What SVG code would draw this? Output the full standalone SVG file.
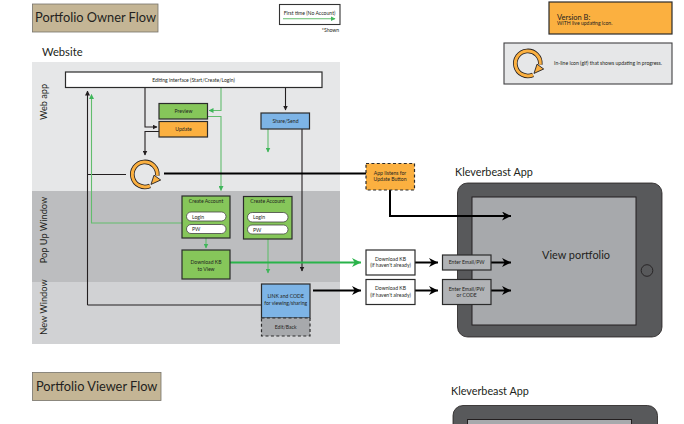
<svg xmlns="http://www.w3.org/2000/svg" xmlns:xlink="http://www.w3.org/1999/xlink" width="684" height="424" viewBox="0 0 684 424">
<style>
text{font-family:"Lato","Open Sans","Liberation Sans",sans-serif;fill:#231f20;text-anchor:middle}
.title{font-size:12.8px}
.h{font-size:11.2px;text-anchor:start}
.band{font-size:9.2px}
.s{font-size:5.1px}
.box{stroke:#2b2b2b;stroke-width:1.2}
.tan{fill:#c4b595;stroke:#77736a;stroke-width:.8}
.white{fill:#fff}
.green{fill:#86c65a}
.orange{fill:#fbb040}
.blue{fill:#7db4e6}
.gray{fill:#a7a9ac}
.lgray{fill:#b1b3b6}
.dash{stroke-dasharray:3 2.4}
.pill{fill:#fff;stroke:#444;stroke-width:.8}
.k{fill:none;stroke:#231f20;stroke-width:1.1}
.kt{fill:none;stroke:#000;stroke-width:2}
.g{fill:none;stroke:#62bd6d;stroke-width:1.1}
.gt{fill:none;stroke:#29b34a;stroke-width:2}
</style>
<defs>
<marker id="mk" viewBox="0 0 10 10" refX="9" refY="5" markerUnits="userSpaceOnUse" markerWidth="5" markerHeight="5" orient="auto"><path d="M0 0L10 5L0 10Z" fill="#231f20"/></marker>
<marker id="mg" viewBox="0 0 10 10" refX="9" refY="5" markerUnits="userSpaceOnUse" markerWidth="5" markerHeight="5" orient="auto"><path d="M0 0L10 5L0 10Z" fill="#3fb65a"/></marker>
<marker id="bk" viewBox="0 0 10 10" refX="10" refY="5" markerUnits="userSpaceOnUse" markerWidth="11" markerHeight="9" orient="auto"><path d="M0 0L10 5L0 10L3 5Z" fill="#000"/></marker>
<marker id="bg" viewBox="0 0 10 10" refX="10" refY="5" markerUnits="userSpaceOnUse" markerWidth="11" markerHeight="9" orient="auto"><path d="M0 0L10 5L0 10L3 5Z" fill="#29b34a"/></marker>
<g id="spin">
<path d="M5 11.8A12.500 12.500 0 1 1 12.300 1.500" fill="none" stroke="#231f20" stroke-width="4.600"/>
<path d="M5 11.8A12.500 12.500 0 1 1 12.300 1.500" fill="none" stroke="#fbb040" stroke-width="3"/>
<path d="M9 1.200L15.700 6L6 10.400Z" fill="#fbb040" stroke="#231f20" stroke-width=".9"/>
</g>
<g id="tablet">
<rect x="0" y="0" width="204.500" height="154" rx="10" fill="#58595b" stroke="#231f20" stroke-width=".8"/>
<rect x="14.500" y="14" width="164" height="128" fill="#a7a9ac" stroke="#231f20" stroke-width="1"/>
<circle cx="189.500" cy="87.500" r="5.800" fill="none" stroke="#231f20" stroke-width=".9"/>
</g>
</defs>

<rect width="684" height="424" fill="#fff"/>

<g id="lanes">
<rect x="32" y="62" width="308" height="129" fill="#e6e7e8"/>
<rect x="32" y="191" width="308" height="91" fill="#bcbdbf"/>
<rect x="32" y="282" width="308" height="62" fill="#d1d2d4"/>
<text class="band" transform="translate(47,102) rotate(-90)">Web app</text>
<text class="band" transform="translate(47,230) rotate(-90)">Pop Up Window</text>
<text class="band" transform="translate(47,307) rotate(-90)">New Window</text>
</g>

<g id="owner-title"><rect class="tan" x="32.500" y="4" width="125.500" height="28"/><text class="title" x="95.500" y="22">Portfolio Owner Flow</text></g>
<g id="viewer-title"><rect class="tan" x="32.500" y="372.500" width="128.500" height="28"/><text class="title" x="96.700" y="390.500">Portfolio Viewer Flow</text></g>
<g id="website-label"><text class="h" x="42" y="55.500">Website</text></g>

<g id="legend"><rect x="279.500" y="4.500" width="60.500" height="20" fill="#fff" stroke="#333" stroke-width="1.100"/><text class="s" x="309.500" y="15">First time (No Account)</text><path class="g" d="M283 18.700H335" marker-end="url(#mg)"/><text class="s" x="330.500" y="32">*Shown</text></g>

<g id="version-b"><rect class="orange box" x="549" y="2" width="123" height="32"/><text x="557" y="19.500" style="text-anchor:start;font-size:7.500px">Version B:</text><text class="s" x="557" y="25" style="text-anchor:start">WITH live updating icon.</text></g>
<g id="icon-note"><rect x="504" y="43" width="168" height="41" fill="#e6e7e8" stroke="#414042" stroke-width="1.100"/><use xlink:href="#spin" href="#spin" x="528" y="63"/><text class="s" x="608" y="64.500">In-line icon (gif) that shows updating in progress.</text></g>

<g id="tablet-1"><use xlink:href="#tablet" href="#tablet" x="457.500" y="183"/><text x="576" y="259" style="font-size:10.900px">View portfolio</text></g>
<g id="tablet-2"><use xlink:href="#tablet" href="#tablet" x="453" y="405.500"/></g>
<g id="app-label-1"><text class="h" x="455" y="175.500" style="font-size:10.800px">Kleverbeast App</text></g>
<g id="app-label-2"><text class="h" x="451" y="394.500" style="font-size:10.800px">Kleverbeast App</text></g>

<g id="connectors">
<path class="k" d="M87.500 305H261.500M87.500 305V91" marker-end="url(#mk)"/>
<path class="k" d="M87.500 174.500H126"/>
<path class="g" d="M182 223H91.500V94.500" marker-end="url(#mg)"/>
<path class="k" d="M145 87.500V127H157" marker-end="url(#mk)"/>
<path class="k" d="M159 131.500H145V155" marker-end="url(#mk)"/>
<path class="g" d="M221 87.500V110.500H209" marker-end="url(#mg)"/>
<path class="g" d="M207.500 116.500H221V190.500" marker-end="url(#mg)"/>
<path class="k" d="M285.500 87.500V110" marker-end="url(#mk)"/>
<path class="g" d="M268 129V152" marker-end="url(#mg)"/>
<path class="k" d="M302 129V271" marker-end="url(#mk)"/>
<path class="g" d="M206 238V248" marker-end="url(#mg)"/>
<path class="g" d="M268 239V273" marker-end="url(#mg)"/>
<path class="kt" d="M164 173.500H366"/>
<path class="kt" d="M390 190V216H511" marker-end="url(#bk)"/>
<path class="gt" d="M230 262.500H361" marker-end="url(#bg)"/>
<path class="kt" d="M313 290.500H361" marker-end="url(#bk)"/>
<path class="kt" d="M415 262.500H438" marker-end="url(#bk)"/>
<path class="kt" d="M415 290.500H438" marker-end="url(#bk)"/>
<path class="kt" d="M491 262.500H511" marker-end="url(#bk)"/>
<path class="kt" d="M491 290.500H511" marker-end="url(#bk)"/>
</g>

<g id="editing"><rect class="white box" x="65.500" y="72" width="256.500" height="15.500"/><text class="s" x="193.500" y="81.500">Editing interface (Start/Create/Login)</text></g>
<g id="preview"><rect class="green box" x="159" y="103.500" width="48.500" height="15.500"/><text class="s" x="183.500" y="113">Preview</text></g>
<g id="update"><rect class="orange box" x="159" y="121.500" width="48.500" height="15.500"/><text class="s" x="183.500" y="131">Update</text></g>
<g id="share"><rect class="blue box" x="261" y="113" width="48.500" height="16"/><text class="s" x="285.500" y="123">Share/Send</text></g>
<g id="spinner"><use xlink:href="#spin" href="#spin" x="145" y="174"/></g>
<g id="create-1"><rect class="green box" x="182" y="196" width="48" height="42"/><text class="s" x="206" y="202.500">Create Account</text><rect class="pill" x="186.500" y="212" width="39.500" height="9" rx="4.500"/><text class="s" x="192" y="218.500" style="text-anchor:start">Login</text><rect class="pill" x="186.500" y="224.500" width="39.500" height="9" rx="4.500"/><text class="s" x="192" y="231" style="text-anchor:start">PW</text></g>
<g id="create-2"><rect class="green box" x="243.500" y="196.500" width="48.500" height="42.500"/><text class="s" x="267.500" y="203">Create Account</text><rect class="pill" x="247.500" y="212.500" width="40.500" height="9.500" rx="4.700"/><text class="s" x="253" y="219" style="text-anchor:start">Login</text><rect class="pill" x="247.500" y="225" width="40.500" height="9" rx="4.500"/><text class="s" x="253" y="231.500" style="text-anchor:start">PW</text></g>
<g id="download-view"><rect class="green box" x="182" y="250" width="48" height="29"/><text class="s" x="206" y="264">Download KB</text><text class="s" x="206" y="270.500">to View</text></g>
<g id="link-code"><rect class="blue" x="261.500" y="284" width="48.500" height="34" stroke="#2b2b2b" stroke-width="1.200"/><text class="s" x="285.700" y="298">LINK and CODE</text><text class="s" x="285.700" y="304.500">for viewing/sharing</text></g>
<g id="edit-back"><rect class="gray box dash" x="261.500" y="318" width="48.500" height="18"/><text class="s" x="285.700" y="328.800">Edit/Back</text></g>
<g id="app-listens"><rect class="orange box dash" x="366" y="163.500" width="48.500" height="26.500"/><text class="s" x="390" y="174.800">App listens for</text><text class="s" x="390" y="181.200">Update Button</text></g>
<g id="download-1"><rect class="white box" x="366" y="250" width="49" height="25"/><text class="s" x="390.500" y="260.500">Download KB</text><text class="s" x="390.500" y="267">(if haven't already)</text></g>
<g id="download-2"><rect class="white box" x="366" y="279.500" width="49" height="25"/><text class="s" x="390.500" y="290">Download KB</text><text class="s" x="390.500" y="296.500">(if haven't already)</text></g>
<g id="enter-1"><rect class="lgray box" x="442.500" y="255" width="48.500" height="15"/><text class="s" x="466.700" y="264.300">Enter Email/PW</text></g>
<g id="enter-2"><rect class="lgray box" x="442.500" y="279.500" width="48.500" height="25"/><text class="s" x="466.700" y="290.500">Enter Email/PW</text><text class="s" x="466.700" y="297">or CODE</text></g>
</svg>
